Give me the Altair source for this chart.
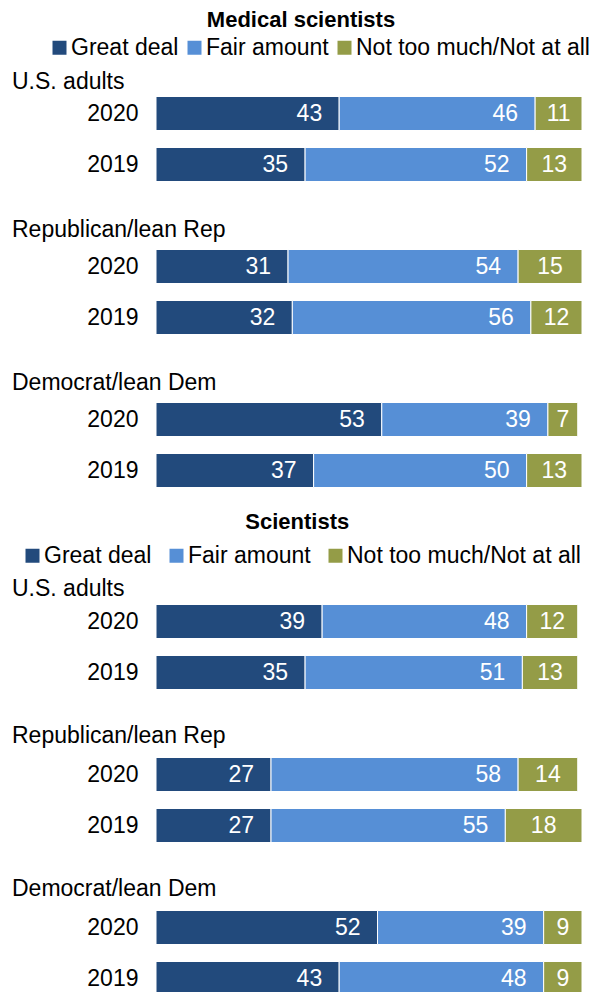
import altair as alt
import pandas as pd

FONT = "Liberation Sans"

categories = ["Great deal", "Fair amount", "Not too much/Not at all"]
colors = ["#224a7c", "#568fd6", "#949c47"]
groups = ["U.S. adults", "Republican/lean Rep", "Democrat/lean Dem"]
years = ["2020", "2019"]

# order of rows: US 2020, US 2019, Rep 2020, Rep 2019, Dem 2020, Dem 2019
med_great = [43, 35, 31, 32, 53, 37]
med_fair = [46, 52, 54, 56, 39, 50]
med_not = [11, 13, 15, 12, 7, 13]

sci_great = [39, 35, 27, 27, 52, 43]
sci_fair = [48, 51, 58, 55, 39, 48]
sci_not = [12, 13, 14, 18, 9, 9]

row_keys = [f"{g}|{y}" for g in groups for y in years]
row_domain = [row_keys[0], row_keys[1], "gap1", row_keys[2], row_keys[3], "gap2", row_keys[4], row_keys[5]]


def make_df(great, fair, notm):
    recs = []
    for i, key in enumerate(row_keys):
        for j, (cat, vals) in enumerate(zip(categories, [great, fair, notm])):
            recs.append({"row": key, "cat": cat, "order": j, "value": vals[i]})
    return pd.DataFrame(recs)


def panel(title, great, fair, notm, legend_x, col_pad, us_dy, other_dy, title_offset):
    df = make_df(great, fair, notm)
    base = alt.Chart(df).transform_stack(
        stack="value", groupby=["row"], as_=["x0", "x1"],
        sort=[alt.SortField("order", order="ascending")],
    )
    y = alt.Y(
        "row:N",
        scale=alt.Scale(domain=row_domain, paddingInner=1 / 3, paddingOuter=1 / 6),
        axis=alt.Axis(
            title=None, domain=False, ticks=False, tickSize=0,
            labelExpr="split(datum.value, '|')[1] || ''",
            labelFontSize=23, labelFont=FONT, labelColor="black",
            labelPadding=18, labelBaseline="middle",
        ),
    )
    xscale = alt.Scale(domain=[0, 100], nice=False, zero=True)
    bars = base.mark_bar(stroke="white", strokeWidth=1).encode(
        y=y,
        x=alt.X("x0:Q", scale=xscale, axis=None),
        x2="x1:Q",
        color=alt.Color(
            "cat:N",
            scale=alt.Scale(domain=categories, range=colors),
            sort=categories,
            legend=alt.Legend(
                title=None, orient="none", legendX=legend_x, legendY=-52,
                direction="horizontal", columns=3, symbolType="square",
                symbolSize=196, symbolStrokeWidth=0, labelFontSize=23,
                labelFont=FONT, labelColor="black", labelLimit=400,
                columnPadding=col_pad, labelOffset=0,
            ),
        ),
    )
    txt_right = base.transform_filter(
        "datum.cat != 'Not too much/Not at all'"
    ).mark_text(
        align="right", baseline="middle", dx=-17, color="white",
        fontSize=23, font=FONT,
    ).encode(y=y, x=alt.X("x1:Q", scale=xscale), text="value:Q")
    txt_mid = base.transform_filter(
        "datum.cat == 'Not too much/Not at all'"
    ).transform_calculate(
        mid="(datum.x0 + datum.x1) / 2"
    ).mark_text(
        align="center", baseline="middle", color="white",
        fontSize=23, font=FONT,
    ).encode(y=y, x=alt.X("mid:Q", scale=xscale), text="value:Q")

    lab_df = pd.DataFrame({"group": groups, "row": [f"{g}|2020" for g in groups]})
    lab_base = alt.Chart(lab_df)
    lab_us = lab_base.transform_filter(f"datum.group == '{groups[0]}'").mark_text(
        align="left", baseline="middle", dy=us_dy, fontSize=23, font=FONT, color="black"
    ).encode(y=y, x=alt.value(-144), text="group:N")
    lab_other = lab_base.transform_filter(f"datum.group != '{groups[0]}'").mark_text(
        align="left", baseline="middle", dy=other_dy, fontSize=23, font=FONT, color="black"
    ).encode(y=y, x=alt.value(-144), text="group:N")

    return alt.layer(bars, txt_right, txt_mid, lab_us, lab_other).properties(
        width=426, height=408,
        title=alt.TitleParams(
            title, fontSize=22, fontWeight="bold", font=FONT, color="black",
            anchor="middle", frame="bounds", offset=title_offset,
        ),
    )


p1 = panel("Medical scientists", med_great, med_fair, med_not, -108, 4, -32, -37, 4)
p2 = panel("Scientists", sci_great, sci_fair, sci_not, -135, 13, -33, -39, 10)

chart = alt.vconcat(p1, p2, spacing=15).resolve_scale(
    color="independent"
).resolve_legend(color="independent").properties(
    padding={"left": 4, "top": 1, "right": 0, "bottom": 0}
).configure_view(stroke=None)

chart.save("out.html", embed_options={"renderer": "svg", "actions": False})
